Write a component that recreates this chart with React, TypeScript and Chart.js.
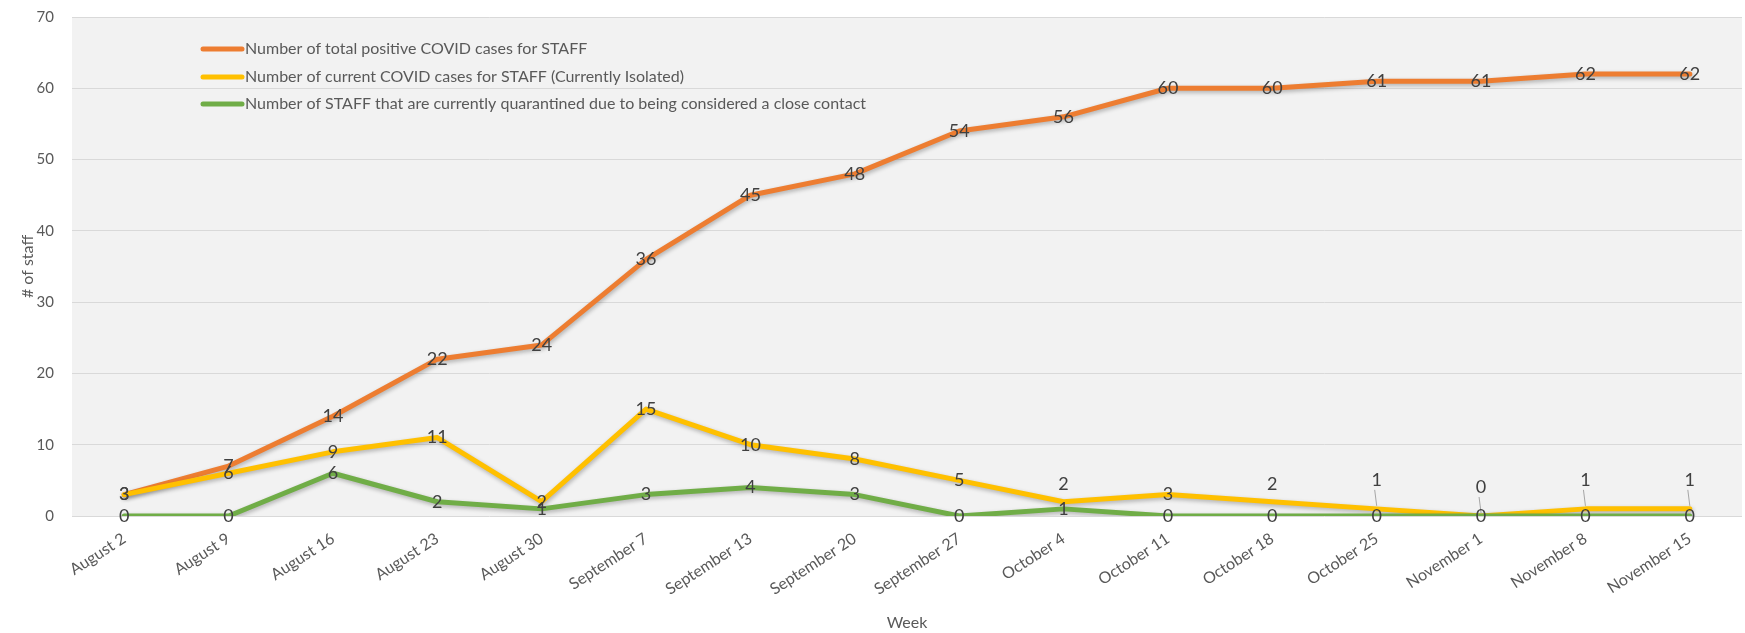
import React, { useEffect, useRef } from "react";
import Chart from "chart.js/auto";

const weeks = [
  "August 2", "August 9", "August 16", "August 23", "August 30",
  "September 7", "September 13", "September 20", "September 27",
  "October 4", "October 11", "October 18", "October 25",
  "November 1", "November 8", "November 15",
];
const totalPositive = [3, 7, 14, 22, 24, 36, 45, 48, 54, 56, 60, 60, 61, 61, 62, 62];
const currentIsolated = [3, 6, 9, 11, 2, 15, 10, 8, 5, 2, 3, 2, 1, 0, 1, 1];
const quarantined = [0, 0, 6, 2, 1, 3, 4, 3, 0, 1, 0, 0, 0, 0, 0, 0];
const seriesNames = [
  "Number of total positive COVID cases for STAFF",
  "Number of current COVID cases for STAFF (Currently Isolated)",
  "Number of STAFF that are currently quarantined due to being considered a close contact",
];
const seriesColors = ["#ED7D31", "#FFC000", "#70AD47"];
const yTitle = "# of staff";
const xTitle = "Week";
const FONT = "Lato, 'Open Sans', sans-serif";

const plotBg = {
  id: "plotBg",
  beforeDraw(chart: any) {
    const { ctx, chartArea: a } = chart;
    ctx.save();
    ctx.fillStyle = "#f2f2f2";
    ctx.fillRect(a.left, a.top, a.right - a.left, a.bottom - a.top);
    ctx.restore();
  },
};

const lineShadow = {
  id: "lineShadow",
  beforeDatasetDraw(chart: any) {
    const ctx = chart.ctx;
    ctx.save();
    ctx.shadowColor = "rgba(0,0,0,0.28)";
    ctx.shadowBlur = 4;
    ctx.shadowOffsetX = 1;
    ctx.shadowOffsetY = 2;
  },
  afterDatasetDraw(chart: any) {
    chart.ctx.restore();
  },
};

const dataLabels = {
  id: "dataLabels",
  afterDatasetsDraw(chart: any) {
    const { ctx } = chart;
    ctx.save();
    ctx.font = `18px ${FONT}`;
    ctx.textAlign = "center";
    ctx.textBaseline = "middle";
    [0, 1, 2].forEach((di) => {
      const meta = chart.getDatasetMeta(di);
      const vals = chart.data.datasets[di].data as number[];
      meta.data.forEach((pt: any, i: number) => {
        let dy = 0;
        let leader = false;
        if (di === 1 && i >= 9 && vals[i] - quarantined[i] <= 2) {
          if (vals[i] >= 2) dy = -18;
          else { dy = -29; leader = true; }
        }
        if (leader) {
          ctx.strokeStyle = "#a6a6a6";
          ctx.lineWidth = 1;
          ctx.beginPath();
          ctx.moveTo(pt.x - 2, pt.y + dy + 10);
          ctx.lineTo(pt.x, pt.y - 3);
          ctx.stroke();
        }
        ctx.fillStyle = "#404040";
        ctx.fillText(String(vals[i]), pt.x, pt.y + dy);
      });
    });
    ctx.restore();
  },
};

const insideLegend = {
  id: "insideLegend",
  afterDraw(chart: any) {
    const { ctx } = chart;
    ctx.save();
    ctx.font = `16px ${FONT}`;
    ctx.textBaseline = "middle";
    ctx.textAlign = "left";
    const ys = [49, 77, 104];
    seriesNames.forEach((name, i) => {
      ctx.strokeStyle = seriesColors[i];
      ctx.lineWidth = 5;
      ctx.lineCap = "round";
      ctx.beginPath();
      ctx.moveTo(203, ys[i]);
      ctx.lineTo(242, ys[i]);
      ctx.stroke();
      ctx.fillStyle = "#595959";
      ctx.fillText(name, 245, ys[i]);
    });
    ctx.restore();
  },
};

const axisTitles = {
  id: "axisTitles",
  afterDraw(chart: any) {
    const { ctx, chartArea: a } = chart;
    ctx.save();
    ctx.font = `16px ${FONT}`;
    ctx.fillStyle = "#595959";
    ctx.textAlign = "center";
    ctx.textBaseline = "middle";
    ctx.fillText(xTitle, (a.left + a.right) / 2, 623);
    ctx.translate(28, (a.top + a.bottom) / 2);
    ctx.rotate(-Math.PI / 2);
    ctx.fillText(yTitle, 0, 0);
    ctx.restore();
  },
};

export default function App() {
  const ref = useRef<HTMLCanvasElement | null>(null);
  useEffect(() => {
    document.body.style.margin = "0";
    if (!ref.current) return;
    const values = [totalPositive, currentIsolated, quarantined];
    const chart = new Chart(ref.current, {
      type: "line",
      data: {
        labels: weeks,
        datasets: values.map((v, i) => ({
          label: seriesNames[i],
          data: v,
          borderColor: seriesColors[i],
          backgroundColor: seriesColors[i],
          borderWidth: 5,
          pointRadius: 0,
          tension: 0,
          borderJoinStyle: "round" as const,
          borderCapStyle: "round" as const,
          order: 3 - i,
        })),
      },
      options: {
        animation: false,
        responsive: true,
        maintainAspectRatio: false,
        layout: { padding: { top: 17, right: 3, left: 0, bottom: 0 } },
        plugins: { legend: { display: false }, tooltip: { enabled: false } },
        scales: {
          x: {
            offset: true,
            grid: { display: false },
            border: { display: false },
            ticks: {
              autoSkip: false,
              minRotation: 33,
              maxRotation: 33,
              padding: 5,
              color: "#595959",
              font: { family: FONT, size: 16 },
            },
            afterFit: (s: any) => {
              s.height = 117;
              s.paddingLeft = 0;
              s.paddingRight = 0;
            },
          },
          y: {
            min: 0,
            max: 70,
            ticks: {
              stepSize: 10,
              padding: 18,
              color: "#595959",
              font: { family: FONT, size: 15 },
            },
            grid: { color: "#d9d9d9", drawTicks: false, lineWidth: 1 },
            border: { display: false },
            afterFit: (s: any) => {
              s.width = 72;
              s.paddingTop = 0;
              s.paddingBottom = 0;
            },
          },
        },
      },
      plugins: [plotBg, lineShadow, dataLabels, insideLegend, axisTitles],
    });
    return () => chart.destroy();
  }, []);
  return (
    <div style={{ width: 1745, height: 633, position: "relative", background: "#fff" }}>
      <canvas ref={ref} />
    </div>
  );
}
